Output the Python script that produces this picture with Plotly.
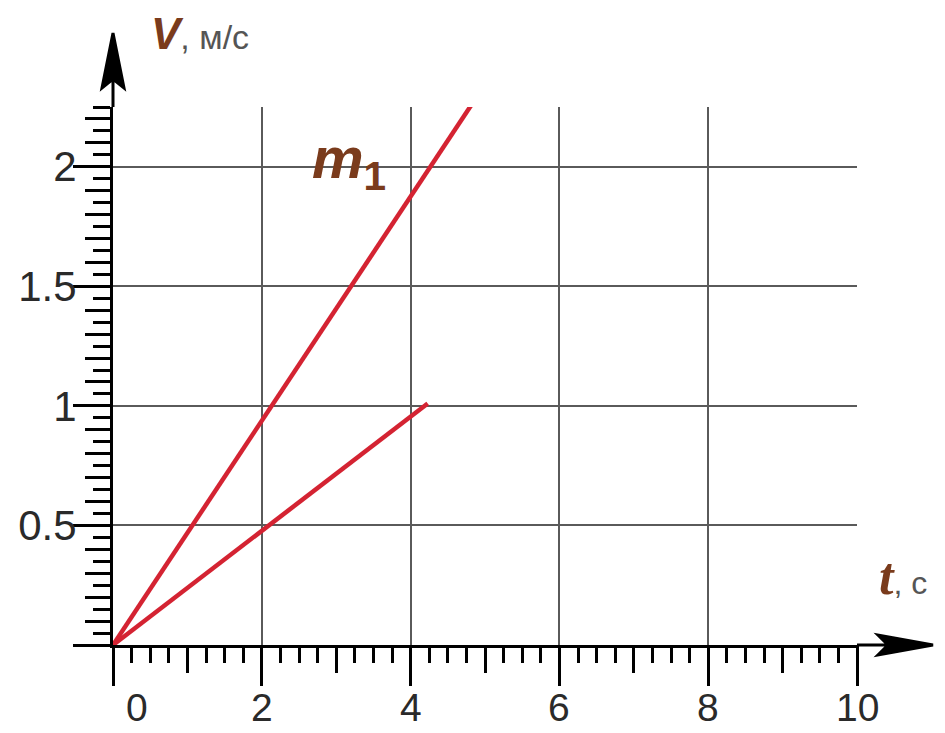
import plotly.graph_objects as go

# two velocity lines v(t)
T1 = [0, 4.82]
V1 = [0, 2.26]
T2 = [0, 4.23]
V2 = [0, 1.01]

X_TICKS = [0, 2, 4, 6, 8, 10]
Y_TICKS = [0, 0.5, 1, 1.5, 2]
Y_LABELS = ["", "0.5", "1", "1.5", "2"]

RED = "#d42332"
BROWN = "#7a3b1c"
GRAY = "#5a5a5a"
FONT = "Liberation Sans"

fig = go.Figure()
fig.add_trace(go.Scatter(x=T1, y=V1, mode="lines", line=dict(color=RED, width=4.5),
                         showlegend=False, hoverinfo="skip"))
fig.add_trace(go.Scatter(x=T2, y=V2, mode="lines", line=dict(color=RED, width=4.5),
                         showlegend=False, hoverinfo="skip"))
# dummy trace so the overlay axes (medium ticks) get drawn
fig.add_trace(go.Scatter(x=[None], y=[None], xaxis="x2", yaxis="y2",
                         showlegend=False, hoverinfo="skip"))

tick = dict(ticks="outside", tickcolor="black", tickwidth=3)

# page body adds an 8px offset, margins account for it
fig.update_layout(
    width=945, height=733,
    margin=dict(l=105, r=96, t=99, b=96),
    paper_bgcolor="white", plot_bgcolor="white",
    xaxis=dict(range=[0, 10], tickvals=X_TICKS, ticklen=38, showticklabels=False,
               showline=True, linecolor="black", linewidth=3, zeroline=False,
               showgrid=True, gridcolor=GRAY, gridwidth=2, automargin=False,
               minor=dict(dtick=0.25, ticklen=15, showgrid=False, **tick), **tick),
    yaxis=dict(range=[0, 2.25], tickvals=Y_TICKS, ticktext=Y_LABELS, ticklen=37,
               tickfont=dict(family=FONT, size=42, color="#2a2a2a"), ticklabelstandoff=-12,
               showline=True, linecolor="black", linewidth=3, zeroline=False,
               showgrid=True, gridcolor=GRAY, gridwidth=2, automargin=False,
               minor=dict(dtick=0.05, ticklen=17, showgrid=False, **tick), **tick),
    xaxis2=dict(range=[0, 10], overlaying="x", anchor="y2", dtick=1, ticklen=27,
                showticklabels=False, showgrid=False, zeroline=False, showline=False,
                automargin=False, **tick),
    yaxis2=dict(range=[0, 2.25], overlaying="y", anchor="x2", dtick=0.1, ticklen=27,
                showticklabels=False, showgrid=False, zeroline=False, showline=False,
                automargin=False, **tick),
)

# x tick labels (the "0" sits right of the vertical axis)
for v in X_TICKS:
    fig.add_annotation(x=v, xref="x", y=0, yref="paper", text=str(v), showarrow=False,
                       yanchor="top", yshift=-39, xshift=24 if v == 0 else 0,
                       font=dict(family=FONT, size=39, color="#2a2a2a"))

# arrow heads on both axes (pixel sized, anchored at the axis ends)
fig.add_shape(type="path", xref="paper", yref="paper", xsizemode="pixel", ysizemode="pixel",
              xanchor=1, yanchor=0, path="M0,0 L32,0 M76,0 L21,10 L31,0 L21,-10 Z",
              line=dict(color="black", width=3), fillcolor="black")
fig.add_shape(type="path", xref="paper", yref="paper", xsizemode="pixel", ysizemode="pixel",
              xanchor=0, yanchor=1, path="M0,0 L0,30 M0,74 L-11,19 L0,28 L11,19 Z",
              line=dict(color="black", width=3), fillcolor="black")

# axis names
fig.add_annotation(x=0, xref="paper", y=1, yref="paper", xanchor="left", yanchor="bottom",
                   xshift=36, yshift=47, showarrow=False,
                   text="<b><i>V</i></b><span style='color:#555;font-size:34px'>, м/с</span>",
                   font=dict(family=FONT, size=44, color=BROWN))
fig.add_annotation(x=1, xref="paper", y=0, yref="paper", xanchor="left", yanchor="bottom",
                   xshift=20, yshift=38, showarrow=False,
                   text="<b><i>t</i></b><span style='color:#555;font-size:32px;font-family:Liberation Sans'>, с</span>",
                   font=dict(family="Liberation Serif", size=52, color=BROWN))

# curve label m1
fig.add_annotation(x=2.65, y=2.02, xref="x", yref="y", xanchor="left", yanchor="middle",
                   showarrow=False, text="<b><i>m</i></b><sub><b>1</b></sub>",
                   font=dict(family=FONT, size=58, color=BROWN))

fig.write_html("out.html")
